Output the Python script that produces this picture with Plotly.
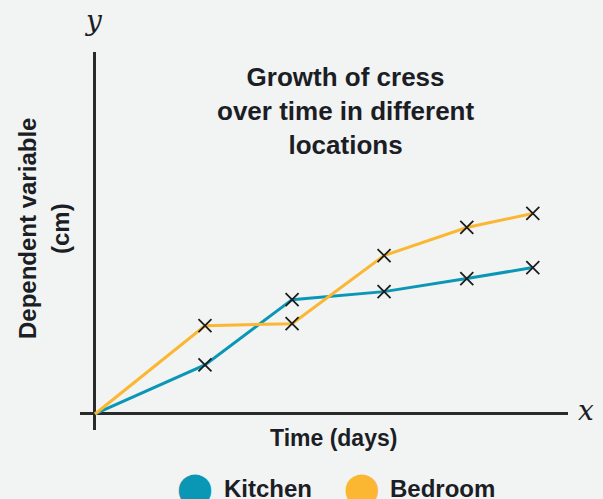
import plotly.graph_objects as go

days = [0, 2.5, 4.48, 6.57, 8.45, 9.95]
kitchen = [0, 2.45, 5.7, 6.1, 6.75, 7.3]
bedroom = [0, 4.4, 4.5, 7.9, 9.3, 10.0]
series_names = ["Kitchen", "Bedroom"]
colors = ["#0a97b6", "#fbb731"]

bg = "#f2f3f3"
ink = "#1b1e24"
font_sans = "Liberation Sans, Arial, sans-serif"

fig = go.Figure()
for name, vals, col in zip(series_names, [kitchen, bedroom], colors):
    fig.add_trace(go.Scatter(
        x=days, y=vals, mode="lines", line=dict(color=col, width=3), name=name,
        showlegend=False, hoverinfo="skip"))
for name, vals, col in zip(series_names, [kitchen, bedroom], colors):
    fig.add_trace(go.Scatter(
        x=days[1:], y=vals[1:], mode="markers",
        marker=dict(symbol="x-thin", size=13, line=dict(color="#1d1d1d", width=1.8)),
        showlegend=False, hoverinfo="skip"))

axis_common = dict(showgrid=False, showticklabels=False, ticks="", showline=False,
                   zeroline=True, zerolinecolor="#2a2a2a", zerolinewidth=3)
fig.update_xaxes(range=[-0.34, 10.75], **axis_common)
fig.update_yaxes(range=[-0.8, 18.05], **axis_common)

def py(p):
    return (430 - p) / 378

def px(p):
    return (p - 80) / 488

ann = []
ann.append(dict(text="<b>Growth of cress<br>over time in different<br>locations</b>",
                xref="paper", yref="paper", x=px(345), y=py(111), xanchor="center",
                yanchor="middle", showarrow=False, align="center",
                font=dict(family=font_sans, size=26, color=ink)))
ann.append(dict(text="<b>Time (days)</b>", xref="paper", yref="paper", x=px(333),
                y=py(438), xanchor="center", yanchor="middle", showarrow=False,
                font=dict(family=font_sans, size=23, color=ink)))
for t, xx in [("Dependent variable", 27), ("(cm)", 60)]:
    ann.append(dict(text=f"<b>{t}</b>", xref="paper", yref="paper", x=px(xx),
                    y=py(229), xanchor="center", yanchor="middle", textangle=-90,
                    showarrow=False, font=dict(family=font_sans, size=24, color=ink)))
ann.append(dict(text="<i>y</i>", xref="paper", yref="paper", x=px(93),
                y=py(21), xanchor="center", yanchor="middle", showarrow=False,
                font=dict(family="DejaVu Serif, serif", size=28, color=ink)))
ann.append(dict(text="<i>x</i>", xref="paper", yref="paper", x=px(586),
                y=py(410), xanchor="center", yanchor="middle", showarrow=False,
                font=dict(family="DejaVu Serif, serif", size=28, color=ink)))

# legend
for name, col, cx, tx in zip(series_names, colors, [195, 362], [222, 388]):
    ann.append(dict(text="\u2B24", xref="paper", yref="paper", x=px(cx), y=py(488),
                    xanchor="center", yanchor="middle", showarrow=False,
                    font=dict(family="DejaVu Sans, sans-serif", size=32, color=col)))
    ann.append(dict(text=f"<b>{name}</b>", xref="paper", yref="paper", x=px(tx), y=py(488),
                    xanchor="left", yanchor="middle", showarrow=False,
                    font=dict(family=font_sans, size=24, color=ink)))

fig.update_layout(
    width=603, height=499,
    margin=dict(l=80, r=35, t=52, b=69),
    paper_bgcolor=bg, plot_bgcolor=bg,
    annotations=ann,
    showlegend=False,
)
fig.write_html("out.html", config={"displayModeBar": False, "staticPlot": True},
               post_script="document.body.style.margin='0';document.body.style.background='%s';document.body.style.overflow='hidden';" % bg)
